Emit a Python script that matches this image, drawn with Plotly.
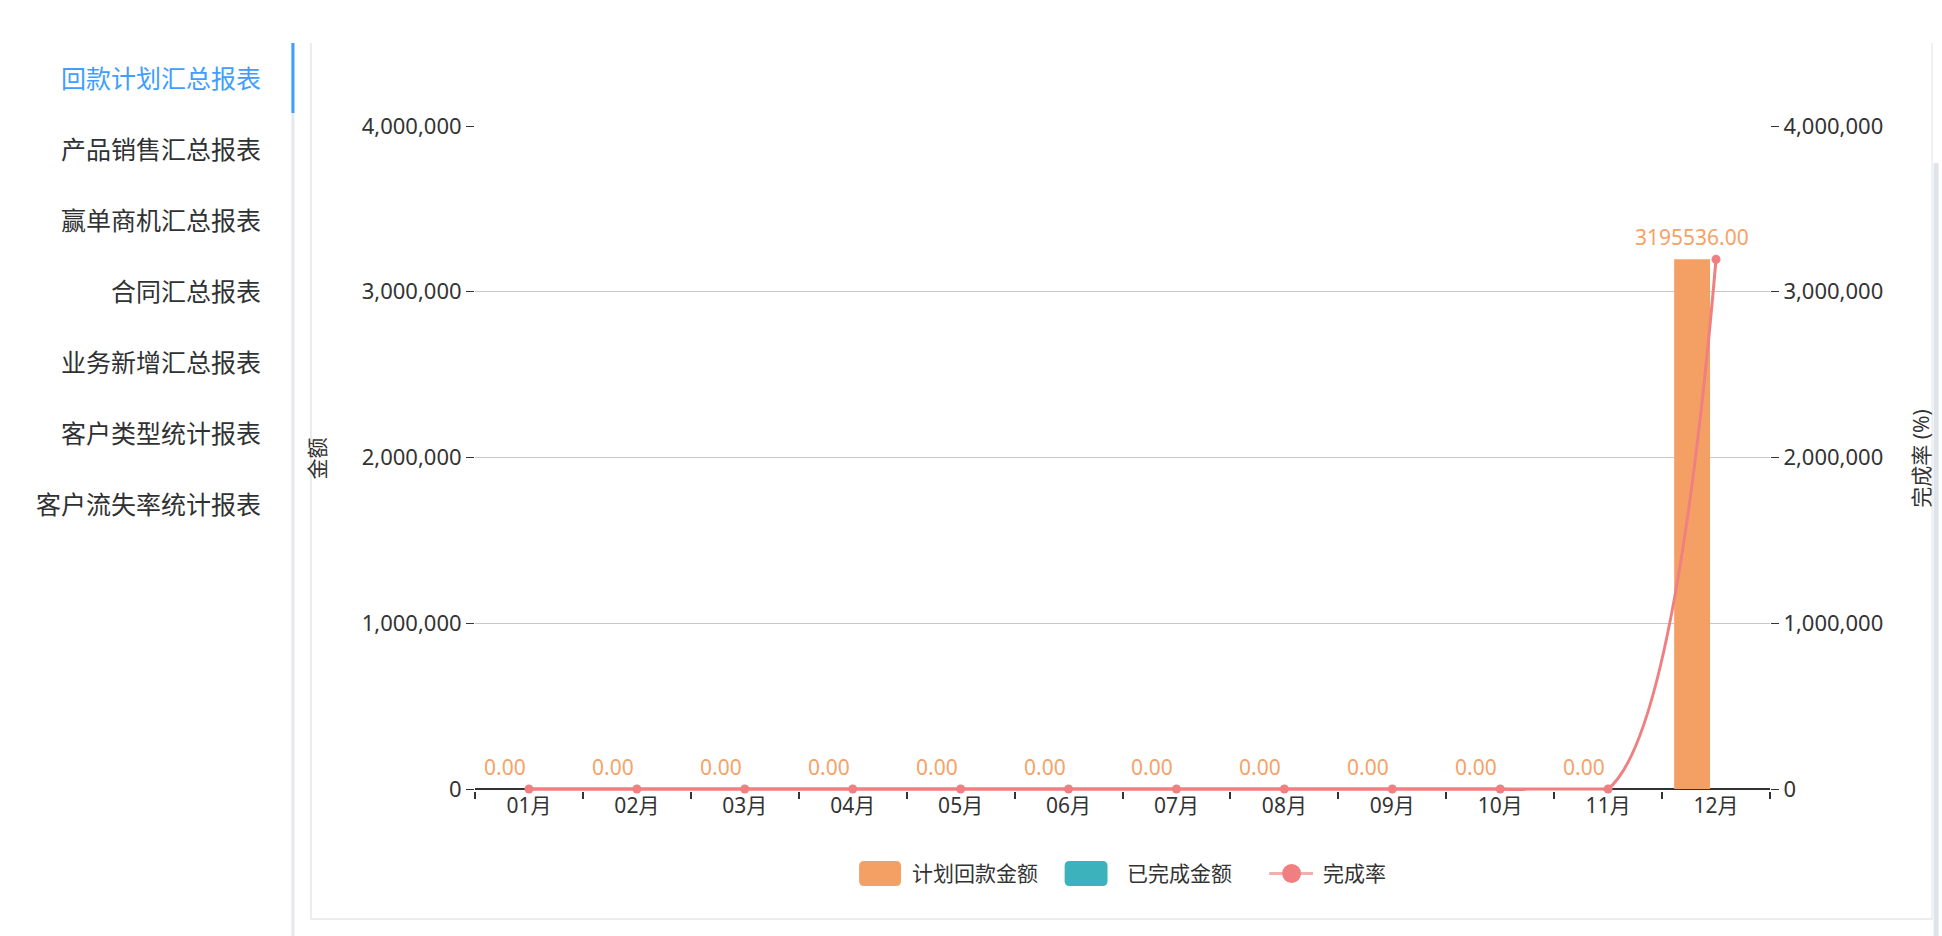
import plotly.graph_objects as go

# ---------------- data ----------------
months = ["01月", "02月", "03月", "04月", "05月", "06月",
          "07月", "08月", "09月", "10月", "11月", "12月"]
plan_amount = [0, 0, 0, 0, 0, 0, 0, 0, 0, 0, 0, 3195536]
done_amount = [0, 0, 0, 0, 0, 0, 0, 0, 0, 0, 0, 0]
finish_rate = [0, 0, 0, 0, 0, 0, 0, 0, 0, 0, 0, 3195536]
y_ticks = [0, 1000000, 2000000, 3000000, 4000000]

menu_items = ["回款计划汇总报表", "产品销售汇总报表", "赢单商机汇总报表", "合同汇总报表",
              "业务新增汇总报表", "客户类型统计报表", "客户流失率统计报表"]
legend_names = ["计划回款金额", "已完成金额", "完成率"]

# ---------------- layout constants ----------------
W, H = 1942, 936
ML, MR, MT, MB = 475, 169, 126, 145
PW, PH = W - ML - MR, H - MT - MB

FONT = "Noto Sans, Noto Sans CJK SC, sans-serif"
ORANGE = "#f4a064"
LABEL_ORANGE = "#f5a269"
TEAL = "#3bb2bc"
RED = "#ef7f80"
TXT = "#333333"


def px(x):
    return (x - ML) / PW


def py(y):
    return (H - MB - y) / PH


def rrect(x0, y0, x1, y1, r):
    pts = [
        ("M", (x0 + r, y0)), ("L", (x1 - r, y0)), ("Q", (x1, y0), (x1, y0 + r)),
        ("L", (x1, y1 - r)), ("Q", (x1, y1), (x1 - r, y1)), ("L", (x0 + r, y1)),
        ("Q", (x0, y1), (x0, y1 - r)), ("L", (x0, y0 + r)), ("Q", (x0, y0), (x0 + r, y0)),
    ]
    s = ""
    for seg in pts:
        cmd = seg[0]
        coords = " ".join(f"{px(a):.6f},{py(b):.6f}" for a, b in seg[1:])
        s += f"{cmd}{coords} "
    return s + "Z"


y_range = [-12000, 4000000]

fig = go.Figure()

fig.add_trace(go.Bar(
    x=months, y=plan_amount, name=legend_names[0],
    marker=dict(color=ORANGE, line=dict(width=0)), yaxis="y",
))
fig.add_trace(go.Bar(
    x=months, y=done_amount, name=legend_names[1],
    marker=dict(color=TEAL, line=dict(width=0)), yaxis="y",
))
# flat (zero) stretch of the rate line drawn straight, so the spline's
# undershoot below zero is hidden and the axis stays covered
fig.add_trace(go.Scatter(
    x=months[:11], y=finish_rate[:11], yaxis="y2", mode="lines",
    line=dict(color=RED, width=3), hoverinfo="skip", showlegend=False,
))
fig.add_trace(go.Scatter(
    x=months, y=finish_rate, name=legend_names[2], yaxis="y2",
    mode="lines+markers",
    line=dict(color=RED, width=3, shape="spline", smoothing=1),
    marker=dict(color=RED, size=9),
    cliponaxis=False,
))

axis_font = dict(family=FONT, size=21, color=TXT)
yaxis_font = dict(family=FONT, size=22, color=TXT)

fig.update_layout(
    width=W, height=H,
    margin=dict(l=ML, r=MR, t=MT, b=MB, pad=0),
    paper_bgcolor="white", plot_bgcolor="white",
    showlegend=False,
    barmode="group", bargap=0.113, bargroupgap=0.25,
    font=dict(family=FONT, color=TXT),
    xaxis=dict(
        type="category", range=[-0.5, 11.5], tickson="boundaries",
        ticks="outside", ticklen=7,
        tickcolor="#333", tickwidth=1.5, showline=False, showgrid=False,
        tickfont=axis_font, zeroline=False,
    ),
    yaxis=dict(
        range=y_range, tickvals=y_ticks, tickformat=",", ticks="outside",
        ticklen=8, tickcolor="#333", tickwidth=1.2, showline=False,
        showgrid=True, gridcolor="#c8c8c8", gridwidth=1,
        zeroline=True, zerolinecolor="#333333", zerolinewidth=2,
        tickfont=yaxis_font,
        title=dict(text="金额", font=dict(family=FONT, size=21, color=TXT), standoff=30),
    ),
    yaxis2=dict(
        range=y_range, tickvals=y_ticks, tickformat=",", ticks="outside",
        ticklen=8, tickcolor="#333", tickwidth=1.2, showline=False,
        overlaying="y", side="right", showgrid=False, zeroline=False,
        tickfont=yaxis_font,
        title=dict(text="完成率 (%)", font=dict(family=FONT, size=21, color=TXT), standoff=32),
    ),
)

shapes = []
# side nav divider + active marker
shapes.append(dict(type="line", xref="paper", yref="paper", x0=px(292.5), x1=px(292.5),
                   y0=py(43), y1=py(936), line=dict(color="#e4e7ed", width=3), layer="above"))
shapes.append(dict(type="line", xref="paper", yref="paper", x0=px(292.5), x1=px(292.5),
                   y0=py(43), y1=py(113), line=dict(color="#409eff", width=3), layer="above"))
# card borders
shapes.append(dict(type="line", xref="paper", yref="paper", x0=px(310.5), x1=px(310.5),
                   y0=py(43), y1=py(919), line=dict(color="#ebebeb", width=2)))
shapes.append(dict(type="line", xref="paper", yref="paper", x0=px(310), x1=px(1936),
                   y0=py(919), y1=py(919), line=dict(color="#ebebeb", width=2)))
shapes.append(dict(type="line", xref="paper", yref="paper", x0=px(1935.5), x1=px(1935.5),
                   y0=py(43), y1=py(919), line=dict(color="#ececec", width=1.5)))
# right scrollbar strip
shapes.append(dict(type="rect", xref="paper", yref="paper", x0=px(1937), x1=px(1942),
                   y0=py(163), y1=py(936), fillcolor="#dfe3ea", line=dict(width=0)))

# custom legend
shapes.append(dict(type="path", xref="paper", yref="paper", path=rrect(860, 861, 902, 886, 5),
                   fillcolor=ORANGE, line=dict(width=0)))
shapes.append(dict(type="path", xref="paper", yref="paper", path=rrect(1066, 861, 1109, 886, 5),
                   fillcolor=TEAL, line=dict(width=0)))
shapes.append(dict(type="line", xref="paper", yref="paper", x0=px(1271), x1=px(1315),
                   y0=py(873.5), y1=py(873.5), line=dict(color="#f5aeb0", width=3)))
shapes.append(dict(type="circle", xref="paper", yref="paper", x0=px(1284), x1=px(1303),
                   y0=py(883), y1=py(864), fillcolor=RED, line=dict(width=0)))

annotations = []
# data labels of the planned-amount bars (sit over the first bar of each group)
for m, v in zip(months, plan_amount):
    annotations.append(dict(
        text=f"{v:.2f}", x=m, y=v, xref="x", yref="y", xshift=-24, yshift=6,
        xanchor="center", yanchor="bottom", showarrow=False,
        font=dict(family=FONT, size=21, color=LABEL_ORANGE),
    ))

menu_y = [78, 149, 220, 291, 362, 433, 504]
for i, (name, yy) in enumerate(zip(menu_items, menu_y)):
    annotations.append(dict(
        text=name, xref="paper", yref="paper", x=px(263), y=py(yy),
        xanchor="right", yanchor="middle", showarrow=False,
        font=dict(family=FONT, size=25, color="#409eff" if i == 0 else "#303133"),
    ))

legend_x = [911, 1127, 1323]
for name, xx in zip(legend_names, legend_x):
    annotations.append(dict(
        text=name, xref="paper", yref="paper", x=px(xx), y=py(873),
        xanchor="left", yanchor="middle", showarrow=False,
        font=dict(family=FONT, size=21, color=TXT),
    ))

fig.update_layout(shapes=shapes, annotations=annotations)

fig.write_html("out.html")
